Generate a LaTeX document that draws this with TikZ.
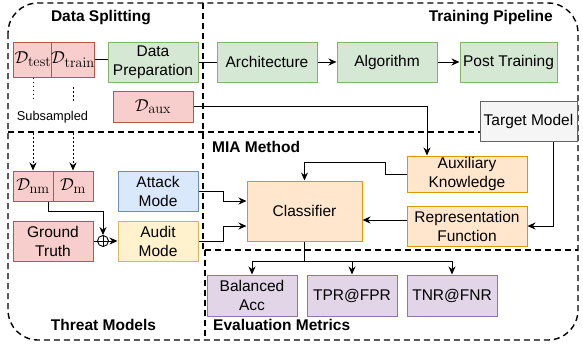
\documentclass[tikz,border=0pt]{standalone}
\usepackage[no-math]{fontspec}
\setmainfont{Liberation Sans}
\usetikzlibrary{arrows.meta,calc}
\definecolor{pinkF}{HTML}{F8CECC}\definecolor{pinkD}{HTML}{B85450}
\definecolor{greenF}{HTML}{D5E8D4}\definecolor{greenD}{HTML}{82B366}
\definecolor{blueF}{HTML}{DAE8FC}\definecolor{blueD}{HTML}{6C8EBF}
\definecolor{yelF}{HTML}{FFF2CC}\definecolor{yelD}{HTML}{D6B656}
\definecolor{oraF}{HTML}{FFE6CC}\definecolor{oraD}{HTML}{D79B00}
\definecolor{purF}{HTML}{E1D5E7}\definecolor{purD}{HTML}{9673A6}
\definecolor{greyF}{HTML}{F5F5F5}\definecolor{greyD}{HTML}{666666}
\tikzset{
  base/.style={draw, line width=1pt, inner sep=0pt, align=center, font=\fontsize{15.5}{19}\selectfont},
  mathbox/.style={base, font=\fontsize{19}{21}\selectfont},
  pinkbox/.style={fill=pinkF, draw=pinkD},
  greenbox/.style={base, fill=greenF, draw=greenD, minimum height=40pt},
  bluebox/.style={base, fill=blueF, draw=blueD},
  yelbox/.style={base, fill=yelF, draw=yelD},
  orabox/.style={base, fill=oraF, draw=oraD},
  purbox/.style={base, fill=purF, draw=purD, minimum width=90pt, minimum height=41pt},
  greybox/.style={base, fill=greyF, draw=greyD},
  con/.style={line width=1pt},
  arr/.style={line width=1pt, -{Stealth[length=8pt,width=7pt]}},
  dotarr/.style={line width=0.8pt, dash pattern=on 1.5pt off 2.5pt, -{Stealth[length=8pt,width=7pt]}},
  dotline/.style={line width=0.8pt, dash pattern=on 1.5pt off 2.5pt},
  region/.style={line width=1.4pt, dash pattern=on 6pt off 4pt},
  title/.style={inner sep=0pt, font=\bfseries\fontsize{15.5}{19}\selectfont},
}
\begin{document}
\begin{tikzpicture}[x=1pt, y=-1pt]
\useasboundingbox (0,0) rectangle (583,343);
% regions
\draw[region, rounded corners=30pt] (8,3) rectangle (578,340);
\draw[region] (203,3) -- (203,250);
\draw[region] (205,250) -- (205,340);
\draw[region] (8,132) -- (578,132);
\draw[region] (205,250) -- (578,250);
% titles
\node[title] (tsplit) at (101,18) {Data Splitting};
\node[title, anchor=east] (ttrain) at (553,18) {Training Pipeline};
\node[title, anchor=west] (tmia) at (212,147) {MIA Method};
\node[title] (tthreat) at (103.5,325) {Threat Models};
\node[title, anchor=west] (teval) at (213,325) {Evaluation Metrics};
\node[inner sep=0pt, font=\fontsize{12.8}{15}\selectfont] (sub) at (52.5,117) {Subsampled};
% nodes
\node[mathbox, pinkbox, minimum width=40pt, minimum height=35pt] (dtest) at (33,59.5) {$\mathcal{D}_{\mathrm{test}}$};
\node[mathbox, pinkbox, minimum width=40pt, minimum height=35pt] (dtrain) at (73,59.5) {$\mathcal{D}_{\mathrm{train}}$};
\node[greenbox, minimum width=90pt] (prep) at (153,62) {Data\\Preparation};
\node[greenbox, minimum width=100pt] (arch) at (267,62) {Architecture};
\node[greenbox, minimum width=100pt] (algo) at (387,62) {Algorithm};
\node[greenbox, minimum width=97pt] (post) at (508.5,62) {Post Training};
\node[mathbox, pinkbox, minimum width=80pt, minimum height=31pt] (daux) at (153,106.5) {$\mathcal{D}_{\mathrm{aux}}$};
\node[greybox, minimum width=97pt, minimum height=40pt] (target) at (528.5,121) {Target Model};
\node[mathbox, pinkbox, minimum width=40pt, minimum height=30pt] (dnm) at (33,186) {$\mathcal{D}_{\mathrm{nm}}$};
\node[mathbox, pinkbox, minimum width=40pt, minimum height=30pt] (dm) at (73,186) {$\mathcal{D}_{\mathrm{m}}$};
\node[bluebox, minimum width=80pt, minimum height=40pt] (attack) at (158,191) {Attack\\Mode};
\node[base, pinkbox, minimum width=80pt, minimum height=40pt] (ground) at (53,241) {Ground\\Truth};
\node[yelbox, minimum width=80pt, minimum height=40pt] (audit) at (158,241) {Audit\\Mode};
\node[orabox, minimum width=115pt, minimum height=60pt] (cls) at (304.5,211) {Classifier};
\node[orabox, minimum width=120pt, minimum height=36pt] (auxk) at (467,174) {Auxiliary\\Knowledge};
\node[orabox, minimum width=120pt, minimum height=40pt] (rep) at (467,226) {Representation\\Function};
\node[purbox] (bal) at (252,295.5) {Balanced\\Acc};
\node[purbox] (tpr) at (352,295.5) {TPR@FPR};
\node[purbox] (tnr) at (452,295.5) {TNR@FNR};
\node[circle, draw, line width=0.9pt, minimum size=11pt, inner sep=0pt, fill=white] (plus) at (103,241) {};
\draw[line width=0.9pt] (plus.north) -- (plus.south) (plus.west) -- (plus.east);
% coordinates
\coordinate (s1) at (33,101);
\coordinate (s2t) at (73,87);
\coordinate (s2) at (73,101);
\coordinate (u1) at (33,133);
\coordinate (u2) at (73,133);
\coordinate (k1) at (385,162);
\coordinate (br) at (304.5,261);
% connectors
\draw[con] (dtrain.east) -- (dtrain.east -| prep.west);
\draw[con] (prep.east) -- (arch.west);
\draw[arr] (arch.east) -- (algo.west);
\draw[arr] (algo.east) -- (post.west);
\draw[arr] (daux.east) -| ([xshift=-40pt]auxk.north);
\draw[arr] ([xshift=24.5pt]target.south) |- (rep.east);
\draw[arr] (auxk.west) -| (k1) -| (cls.north);
\draw[arr] ([yshift=6pt]rep.west) -- ([yshift=6pt]rep.west -| cls.east);
\draw[con] (cls.south) -- (br);
\draw[arr] (br) -| (bal.north);
\draw[arr] (br) -| (tpr.north);
\draw[arr] (br) -| (tnr.north);
\draw[arr] (attack.east) -- ++(25,0) |- ([yshift=10pt]cls.west);
\draw[arr] (audit.east) -- ++(25,0) |- ([yshift=-15pt]cls.west);
\draw[dotline] (dtest.south) -- (s1);
\draw[dotline] (s2t) -- (s2);
\draw[dotarr] (u1) -- (dnm.north);
\draw[dotarr] (u2) -- (dm.north);
\draw[arr] ([xshift=15pt]dnm.south) -- ++(0,10) -| (plus.north);
\draw[con] (ground.east) -- (plus.west);
\draw[arr] (plus.east) -- (audit.west);
\end{tikzpicture}
\end{document}
